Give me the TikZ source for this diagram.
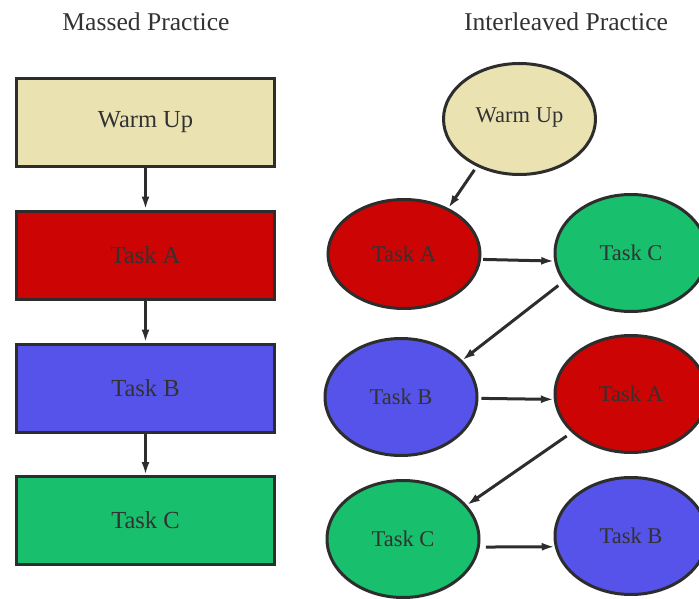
\documentclass[tikz,border=0pt]{standalone}
\usepackage{fontspec}
\setmainfont{Liberation Serif}
\usetikzlibrary{shapes}
\usetikzlibrary{arrows.meta}

\definecolor{edge}{RGB}{45,45,45}
\definecolor{ink}{RGB}{50,50,50}
\definecolor{warm}{RGB}{234,227,177}
\definecolor{taskred}{RGB}{204,4,4}
\definecolor{taskblue}{RGB}{85,83,233}
\definecolor{taskgreen}{RGB}{24,191,108}

\begin{document}
\begin{tikzpicture}[x=1pt,y=-1pt,
    title/.style={text=ink,font=\fontsize{25.6}{30}\selectfont},
    box/.style={draw=edge,line width=3pt,text=ink,minimum width=258pt,minimum height=88pt,font=\fontsize{24.5}{29}\selectfont},
    blob/.style={ellipse,draw=edge,line width=3pt,text=ink,inner sep=0pt,minimum width=152pt,minimum height=117pt,font=\fontsize{22.5}{27}\selectfont},
    link/.style={-{Latex[length=13pt,width=8pt]},draw=edge,line width=3pt}]
    \useasboundingbox (0,0) rectangle (699,599);

    % massed practice
    \node[title] (mtitle) at (146,22) {Massed Practice};
    \node[box,fill=warm] (wu1) at (145.5,122.5) {Warm Up};
    \node[box,fill=taskred] (ta1) at (145.5,255) {Task A};
    \node[box,fill=taskblue] (tb1) at (145.5,388) {Task B};
    \node[box,fill=taskgreen] (tc1) at (145.5,520.5) {Task C};
    \draw[link] (wu1) -- (ta1);
    \draw[link] (ta1) -- (tb1);
    \draw[link] (tb1) -- (tc1);

    % interleaved practice
    \node[title] (ititle) at (566,22) {Interleaved Practice};
    \node[blob,fill=warm,minimum height=111pt] (wu2) at (519.5,119) {\raisebox{7pt}{Warm Up}};
    \node[blob,fill=taskred,minimum height=109pt] (ta2) at (404,254) {Task A};
    \node[blob,fill=taskgreen] (tc2) at (631,253) {Task C};
    \node[blob,fill=taskblue] (tb2) at (401,397) {Task B};
    \node[blob,fill=taskred] (ta3) at (631,394) {Task A};
    \node[blob,fill=taskgreen] (tc3) at (403,539) {Task C};
    \node[blob,fill=taskblue] (tb3) at (631,536) {Task B};
    \draw[link,shorten <=4pt] (wu2.228) -- (ta2.46);
    \draw[link,shorten <=2pt] (ta2.-4) -- (tc2.186);
    \draw[link,shorten <=6pt] (tc2.203) -- (tb2.31);
    \draw[link,shorten <=3pt] (tb2.-1) -- (ta3.184);
    \draw[link,shorten <=6pt] (ta3.213) -- (tc3.28);
    \draw[link,shorten <=6pt] (tc3.-6) -- (tb3.188);
\end{tikzpicture}
\end{document}
